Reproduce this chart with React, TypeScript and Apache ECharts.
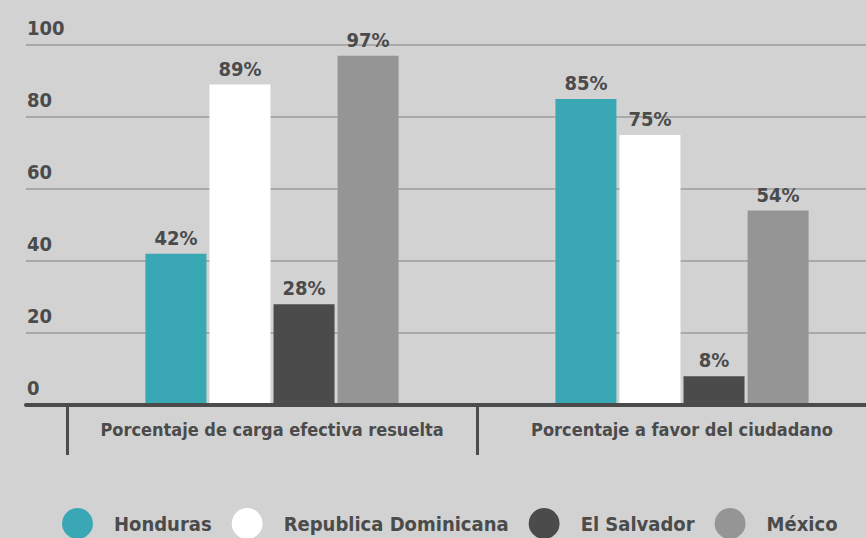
import React, { useEffect, useRef } from "react";
import * as echarts from "echarts";

const categories = ["Porcentaje de carga efectiva resuelta", "Porcentaje a favor del ciudadano"];
const countries = ["Honduras", "Republica Dominicana", "El Salvador", "México"];
const honduras = [42, 85];
const republicaDominicana = [89, 75];
const elSalvador = [28, 8];
const mexico = [97, 54];
const colors = ["#3aa7b4", "#ffffff", "#4b4b4b", "#959595"];
const yTicks = [0, 20, 40, 60, 80, 100];

const FONT = '"Liberation Sans Narrow", "DejaVu Sans Condensed", "Roboto Condensed", sans-serif';
const TXT = "#4b4b4b";

export default function App() {
  const ref = useRef<HTMLDivElement>(null);
  useEffect(() => {
    document.body.style.margin = "0";
    const chart = echarts.init(ref.current!, null, { renderer: "svg" });
    const values = [honduras, republicaDominicana, elSalvador, mexico];
    chart.setOption({
      animation: false,
      backgroundColor: "#d2d2d2",
      textStyle: { fontFamily: FONT },
      grid: [
        { left: 26, right: 0, top: 45, bottom: 133, outerBoundsMode: "none" },
        { left: 67, width: 820, top: 45, bottom: 133, outerBoundsMode: "none" },
      ],
      legend: {
        data: countries,
        left: 62,
        top: 508,
        padding: 0,
        icon: "circle",
        itemWidth: 31,
        itemHeight: 31,
        itemGap: 20,
        textStyle: { fontFamily: FONT, fontSize: 20, fontWeight: "bold", color: TXT, padding: [0, 0, 0, 16] },
      },
      xAxis: [
        {
          gridIndex: 0,
          type: "category",
          data: [""],
          z: 3,
          axisLine: { show: true, lineStyle: { color: TXT, width: 4 } },
          axisTick: { show: false },
          axisLabel: { show: false },
        },
        {
          gridIndex: 1,
          type: "category",
          data: categories,
          axisLine: { show: false },
          axisTick: { show: true, length: 50, interval: 0, lineStyle: { color: TXT, width: 3 } },
          axisLabel: { interval: 0, margin: 15, fontFamily: FONT, fontSize: 18, fontWeight: "bold", color: TXT },
        },
      ],
      yAxis: [
        {
          gridIndex: 0,
          type: "value",
          min: yTicks[0],
          max: yTicks[yTicks.length - 1],
          interval: 20,
          axisLine: { show: false },
          axisTick: { show: false },
          splitLine: { show: true, lineStyle: { color: "#a9a9a9", width: 2 } },
          axisLabel: {
            inside: true,
            margin: 1,
            verticalAlign: "bottom",
            padding: [0, 0, 7, 0],
            fontFamily: FONT,
            fontSize: 20,
            fontWeight: "bold",
            color: TXT,
          },
        },
        {
          gridIndex: 1,
          type: "value",
          min: 0,
          max: 100,
          show: false,
          splitLine: { show: false },
        },
      ],
      series: countries.map((name, i) => ({
        name,
        type: "bar",
        xAxisIndex: 1,
        yAxisIndex: 1,
        data: values[i],
        barWidth: 61,
        barGap: "5%",
        itemStyle: { color: colors[i] },
        label: {
          show: true,
          position: "top",
          distance: 6,
          formatter: "{c}%",
          fontFamily: FONT,
          fontSize: 20,
          fontWeight: "bold",
          color: TXT,
        },
      })),
    });
    return () => chart.dispose();
  }, []);
  return <div ref={ref} style={{ width: 866, height: 538 }} />;
}
